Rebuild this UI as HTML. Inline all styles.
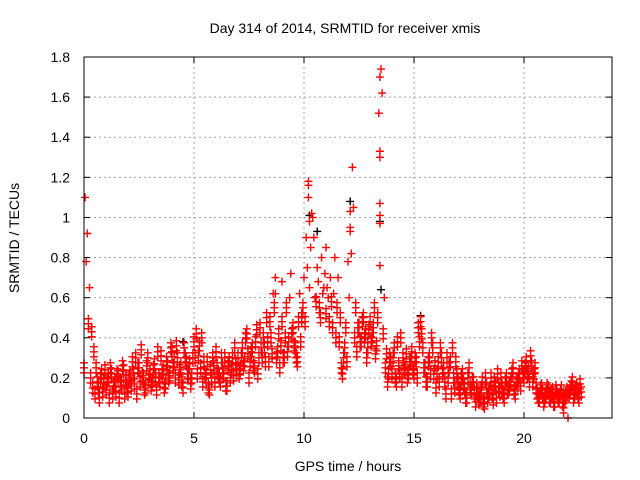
<!DOCTYPE html>
<html><head><meta charset="utf-8"><style>
body{margin:0;background:#fff}
svg{display:block;font-family:"Liberation Sans",sans-serif}
</style></head><body>
<svg id="chart" width="640" height="480">
<g id="grid"></g>
<g id="ticks"></g>
<g id="marks"></g>
<rect x="84" y="57" width="528" height="361" fill="none" stroke="#000" stroke-width="1"/>
<text x="345" y="33" font-size="14" text-anchor="middle">Day 314 of 2014, SRMTID for receiver xmis</text>
<text x="348" y="471" font-size="14" text-anchor="middle">GPS time / hours</text>
<text transform="translate(19,238) rotate(-90)" font-size="14" text-anchor="middle">SRMTID / TECUs</text>
</svg>
<script>
const xTicks=[0,5,10,15,20];
const yTicks=[0,0.2,0.4,0.6,0.8,1,1.2,1.4,1.6,1.8];
const yTickLabels=["0","0.2","0.4","0.6","0.8","1","1.2","1.4","1.6","1.8"];
const trackA=[0.25,0.78,0.47,0.20,0.15,0.12,0.18,0.10,0.22,0.17,
0.14,0.20,0.25,0.12,0.18,0.22,0.10,0.16,0.24,0.19,
0.13,0.21,0.28,0.17,0.12,0.25,0.34,0.20,0.15,0.30,
0.22,0.18,0.27,0.14,0.20,0.31,0.24,0.17,0.26,0.21,
0.33,0.28,0.36,0.19,0.25,0.15,0.30,0.22,0.27,0.20,
0.38,0.42,0.31,0.25,0.18,0.22,0.28,0.14,0.20,0.26,
0.33,0.22,0.18,0.25,0.30,0.16,0.28,0.24,0.21,0.27,
0.30,0.24,0.35,0.28,0.42,0.20,0.33,0.26,0.38,0.22,
0.45,0.30,0.35,0.50,0.28,0.40,0.62,0.70,0.33,0.25,
0.48,0.30,0.55,0.38,0.72,0.45,0.35,0.28,0.62,0.50,
0.70,0.90,1.18,0.85,1.00,0.60,0.75,0.55,0.80,0.65,
0.52,0.60,0.70,0.45,0.80,0.55,0.38,0.25,0.30,0.45,
0.78,0.95,1.25,0.40,0.33,0.45,0.38,0.50,0.42,0.35,
0.48,0.40,0.55,0.36,1.52,1.74,0.42,0.25,0.18,0.30,
0.22,0.35,0.18,0.26,0.40,0.30,0.24,0.20,0.28,0.33,
0.22,0.28,0.45,0.48,0.35,0.25,0.18,0.30,0.40,0.22,
0.15,0.28,0.35,0.22,0.18,0.30,0.25,0.12,0.20,0.28,
0.18,0.12,0.22,0.15,0.10,0.25,0.14,0.18,0.08,0.12,
0.10,0.18,0.07,0.15,0.12,0.20,0.09,0.16,0.22,0.13,
0.15,0.10,0.20,0.14,0.18,0.25,0.12,0.17,0.22,0.26,
0.20,0.28,0.23,0.31,0.18,0.25,0.12,0.10,0.15,0.08,
0.12,0.14,0.10,0.13,0.08,0.12,0.10,0.14,0.05,0.11,
0.00,0.14,0.18,0.12,0.15,0.10,0.13];
const trackB=[1.10,0.92,0.65,0.43,0.33,0.25,0.15,0.20,0.13,0.24,
0.18,0.10,0.22,0.16,0.13,0.21,0.18,0.26,0.12,0.15,
0.20,0.16,0.22,0.30,0.25,0.18,0.21,0.14,0.26,0.19,
0.16,0.24,0.20,0.33,0.18,0.22,0.15,0.28,0.20,0.35,
0.25,0.20,0.30,0.24,0.18,0.35,0.28,0.22,0.17,0.30,
0.30,0.22,0.36,0.40,0.28,0.20,0.15,0.24,0.30,0.18,
0.25,0.20,0.30,0.22,0.16,0.26,0.20,0.30,0.35,0.24,
0.22,0.30,0.26,0.40,0.32,0.28,0.35,0.25,0.44,0.30,
0.35,0.40,0.28,0.38,0.48,0.32,0.55,0.30,0.42,0.36,
0.30,0.40,0.33,0.60,0.42,0.36,0.30,0.48,0.38,0.55,
0.48,0.75,0.65,1.02,0.90,0.58,0.68,0.50,0.62,0.72,
0.65,0.48,0.58,0.62,0.40,0.70,0.50,0.22,0.35,0.28,
0.60,0.82,1.05,0.55,0.45,0.38,0.48,0.40,0.30,0.44,
0.38,0.45,0.32,0.50,1.33,1.62,0.60,0.32,0.22,0.28,
0.30,0.20,0.38,0.22,0.18,0.25,0.32,0.22,0.28,0.24,
0.30,0.20,0.38,0.42,0.25,0.18,0.28,0.22,0.35,0.26,
0.22,0.18,0.30,0.25,0.12,0.20,0.28,0.35,0.15,0.22,
0.14,0.20,0.17,0.10,0.20,0.15,0.18,0.12,0.15,0.09,
0.14,0.08,0.20,0.10,0.14,0.12,0.18,0.10,0.15,0.20,
0.12,0.18,0.14,0.16,0.22,0.14,0.18,0.20,0.16,0.22,
0.25,0.22,0.18,0.26,0.22,0.15,0.10,0.14,0.12,0.10,
0.15,0.10,0.12,0.08,0.14,0.10,0.12,0.08,0.10,0.13,
0.12,0.16,0.10,0.14,0.12,0.17];
const extraTimes=[13.45,13.45,13.45,13.45,13.45,13.45,10.2,10.2,10.25,12.1,12.1,9.0,8.7,11.0];
const extraValues=[1.70,1.30,1.07,1.01,0.97,0.76,1.16,1.10,0.98,1.03,0.93,0.68,0.62,0.85];
const blackTimes=[10.25,12.1,13.45,13.5,4.5,15.3,10.6];
const blackValues=[1.01,1.08,0.98,0.64,0.38,0.51,0.93];

const X=t=>84+t*22, Y=v=>418-v*361/1.8;
const NS="http://www.w3.org/2000/svg";
const grid=document.getElementById('grid'),ticks=document.getElementById('ticks'),marks=document.getElementById('marks');
function mk(tag,attrs,parent){const e=document.createElementNS(NS,tag);for(const k in attrs)e.setAttribute(k,attrs[k]);parent.appendChild(e);return e;}
xTicks.forEach(t=>{
  if(t>0){const g=mk('line',{x1:X(t),x2:X(t),y1:57,y2:418,stroke:'#a0a0a0','stroke-dasharray':'2,3'},grid);
  
  }
  mk('line',{x1:X(t),x2:X(t),y1:418,y2:412,stroke:'#000'},ticks);
  mk('line',{x1:X(t),x2:X(t),y1:57,y2:63,stroke:'#000'},ticks);
  const l=mk('text',{x:X(t),y:443,'font-size':14,'text-anchor':'middle'},ticks);l.textContent=t;
  
  
});
yTicks.forEach((v,i)=>{
  if(v>0&&v<1.8){const g=mk('line',{x1:84,x2:612,y1:Y(v),y2:Y(v),stroke:'#a0a0a0','stroke-dasharray':'2,3'},grid);
  
  }
  mk('line',{x1:84,x2:90,y1:Y(v),y2:Y(v),stroke:'#000'},ticks);
  mk('line',{x1:606,x2:612,y1:Y(v),y2:Y(v),stroke:'#000'},ticks);
  const l=mk('text',{x:70,y:Y(v)+5,'font-size':14,'text-anchor':'end'},ticks);l.textContent=yTickLabels[i];
  
  
});
// marker glyph: a short vertical streak of '+' crosses (gnuplot dense-sampling look)
function plus(t,v,col,name,stack){
  const x=X(t),y=Y(v);
  let d='';
  const offs=stack?[-5,0,5]:[0];
  offs.forEach(o=>{d+=`M${x-4} ${y+o}H${x+4}M${x} ${y+o-4}V${y+o+4}`;});
  const p=mk('path',{d:d,stroke:col,'stroke-width':1.4,fill:'none'},marks);
  
  
}
blackTimes.forEach((t,i)=>plus(t,blackValues[i],'#000','black-point',false));
trackA.forEach((v,i)=>plus(i*0.1,v,'#ff0000','red-point',v<0.6&&v>0.02));
trackB.forEach((v,i)=>plus(i*0.1+0.05,v,'#ff0000','red-point',v<0.6&&v>0.02));
extraTimes.forEach((t,i)=>plus(t,extraValues[i],'#ff0000','red-point',false));
</script>
</body></html>
